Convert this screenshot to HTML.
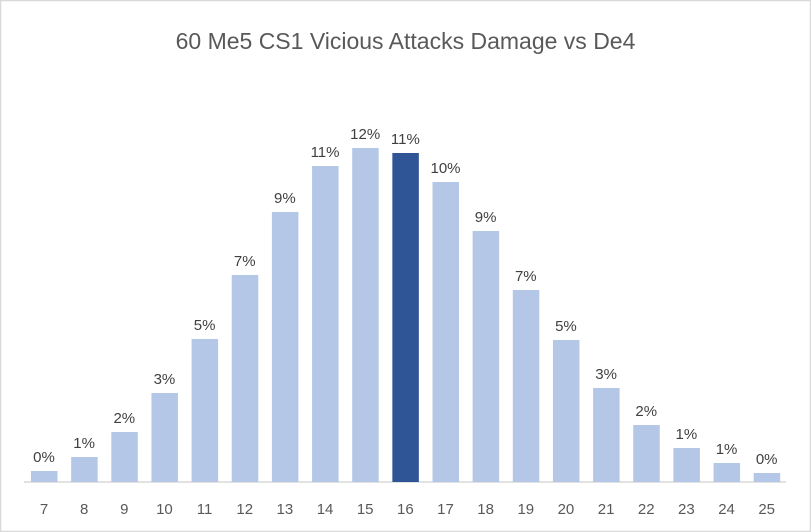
<!DOCTYPE html>
<html><head><meta charset="utf-8"><style>
body{margin:0;background:#fff}
svg{display:block;font-family:"Liberation Sans",sans-serif}
</style></head><body>
<svg width="811" height="532" viewBox="0 0 811 532" xmlns="http://www.w3.org/2000/svg">
<rect x="0.5" y="0.5" width="810" height="531" fill="#fff" stroke="#d9d9d9" stroke-width="1.5"/>
<text x="405.5" y="49" text-anchor="middle" font-size="23" fill="#595959">60 Me5 CS1 Vicious Attacks Damage vs De4</text>
<line x1="24" y1="482" x2="786" y2="482" stroke="#d9d9d9" stroke-width="1.5"/>
<g fill="#b4c7e7">
<rect x="31" y="471" width="26.5" height="11"/>
<rect x="71.15" y="457" width="26.5" height="25"/>
<rect x="111.3" y="432" width="26.5" height="50"/>
<rect x="151.45" y="393" width="26.5" height="89"/>
<rect x="191.6" y="339" width="26.5" height="143"/>
<rect x="231.75" y="275" width="26.5" height="207"/>
<rect x="271.9" y="212" width="26.5" height="270"/>
<rect x="312.05" y="166" width="26.5" height="316"/>
<rect x="352.2" y="148" width="26.5" height="334"/>
<rect x="392.35" y="153" width="26.5" height="329" fill="#2f5597"/>
<rect x="432.5" y="182" width="26.5" height="300"/>
<rect x="472.65" y="231" width="26.5" height="251"/>
<rect x="512.8" y="290" width="26.5" height="192"/>
<rect x="552.95" y="340" width="26.5" height="142"/>
<rect x="593.1" y="388" width="26.5" height="94"/>
<rect x="633.25" y="425" width="26.5" height="57"/>
<rect x="673.4" y="448" width="26.5" height="34"/>
<rect x="713.55" y="463" width="26.5" height="19"/>
<rect x="753.7" y="473" width="26.5" height="9"/>
</g>
<g font-size="15" fill="#404040" text-anchor="middle">
<text x="44" y="462">0%</text>
<text x="84.15" y="448">1%</text>
<text x="124.3" y="423">2%</text>
<text x="164.45" y="384">3%</text>
<text x="204.6" y="330">5%</text>
<text x="244.75" y="266">7%</text>
<text x="284.9" y="203">9%</text>
<text x="325.05" y="157">11%</text>
<text x="365.2" y="139">12%</text>
<text x="405.35" y="144">11%</text>
<text x="445.5" y="173">10%</text>
<text x="485.65" y="222">9%</text>
<text x="525.8" y="281">7%</text>
<text x="565.95" y="331">5%</text>
<text x="606.1" y="379">3%</text>
<text x="646.25" y="416">2%</text>
<text x="686.4" y="439">1%</text>
<text x="726.55" y="454">1%</text>
<text x="766.7" y="464">0%</text>
</g>
<g font-size="15" fill="#595959" text-anchor="middle">
<text x="44" y="514">7</text>
<text x="84.15" y="514">8</text>
<text x="124.3" y="514">9</text>
<text x="164.45" y="514">10</text>
<text x="204.6" y="514">11</text>
<text x="244.75" y="514">12</text>
<text x="284.9" y="514">13</text>
<text x="325.05" y="514">14</text>
<text x="365.2" y="514">15</text>
<text x="405.35" y="514">16</text>
<text x="445.5" y="514">17</text>
<text x="485.65" y="514">18</text>
<text x="525.8" y="514">19</text>
<text x="565.95" y="514">20</text>
<text x="606.1" y="514">21</text>
<text x="646.25" y="514">22</text>
<text x="686.4" y="514">23</text>
<text x="726.55" y="514">24</text>
<text x="766.7" y="514">25</text>
</g>
</svg>
</body></html>
